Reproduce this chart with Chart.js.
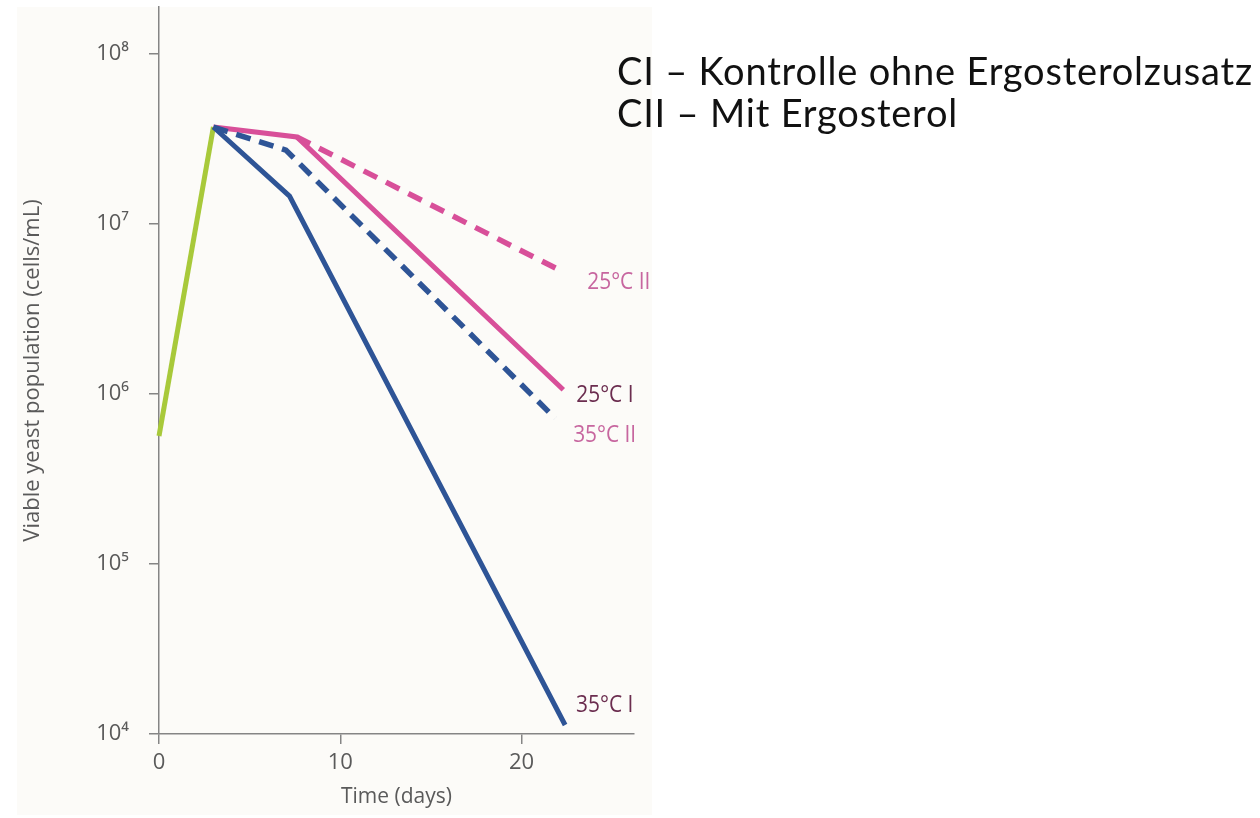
<!DOCTYPE html>
<html>
<head>
<meta charset="utf-8">
<title>Viable yeast population</title>
<script src="https://cdn.jsdelivr.net/npm/chart.js"></script>
<style>
  html, body { margin: 0; padding: 0; background: #ffffff; }
  #wrap { position: relative; width: 1260px; height: 818px; }
</style>
</head>
<body>
<div id="wrap"><canvas id="yeast"></canvas></div>
<script>
// days / viable cells per mL for each curve
var growthDays = [0, 3.0]
var growthCells = [5.66e5, 3.72e7]

var c25iDays = [3.0, 7.6, 22.3]
var c25iCells = [3.72e7, 3.25e7, 1.06e6]

var c25iiDays = [7.6, 22.3]
var c25iiCells = [3.25e7, 5.22e6]

var c35iiDays = [3.0, 7.0, 21.85]
var c35iiCells = [3.72e7, 2.72e7, 7.2e5]

var c35iDays = [3.0, 7.2, 22.4]
var c35iCells = [3.72e7, 1.46e7, 1.13e4]

var curveNames = ['25°C II', '25°C I', '35°C II', '35°C I']
var xTicks = [0, 10, 20]
var yTicks = [1e4, 1e5, 1e6, 1e7, 1e8]
var legendLines = ['CI – Kontrolle ohne Ergosterolzusatz', 'CII – Mit Ergosterol']

var PINK = '#d84f99'
var BLUE = '#2e5496'
var GREEN = '#a8c93a'
var LABEL_LIGHT = '#c7669f'
var LABEL_DARK = '#6b2d4f'
var AXIS = '#858585'
var TEXT = '#5a5a5a'
var SANS = "'Open Sans', sans-serif"

function pts(xs, ys)
{
	var out = []
	for(var i = 0; i < xs.length; i++)
		out.push({x: xs[i], y: ys[i]})
	return out
}

var sup = {'0':'⁰','1':'¹','2':'²','3':'³','4':'⁴','5':'⁵','6':'⁶','7':'⁷','8':'⁸','9':'⁹'}
function powerLabel(v)
{
	var e = String(Math.round(Math.log10(v)))
	return '10' + e.split('').map(function(d){ return sup[d] }).join('')
}

// off-white panel behind the plot
var panel = {
	id: 'panel',
	beforeDraw: function(chart)
	{
		var ctx = chart.ctx
		ctx.save()
		ctx.fillStyle = '#fcfbf8'
		ctx.fillRect(17, 7, 635, 808)
		ctx.restore()
	}
}

// curve names next to the line ends (slightly narrowed), and the CI / CII key
var endLabels = {
	id: 'endLabels',
	afterDatasetsDraw: function(chart)
	{
		var ctx = chart.ctx
		ctx.save()
		ctx.textBaseline = 'middle'
		ctx.textAlign = 'left'
		ctx.font = "24px " + SANS
		chart.data.datasets.forEach(function(ds, i)
		{
			if(!ds.endLabel) return
			var meta = chart.getDatasetMeta(i)
			var last = meta.data[meta.data.length - 1]
			ctx.save()
			ctx.translate(last.x + ds.endLabel.dx, last.y + ds.endLabel.dy)
			ctx.scale(0.87, 1)
			ctx.fillStyle = ds.endLabel.color
			ctx.fillText(ds.endLabel.text, 0, 0)
			ctx.restore()
		})
		ctx.fillStyle = '#111111'
		ctx.font = "38px Lato, sans-serif"
		ctx.letterSpacing = '0.8px'
		ctx.fillText(legendLines[0], 617, 73)
		ctx.fillText(legendLines[1], 617, 115)
		ctx.restore()
	}
}

var lineBase = {
	pointRadius: 0,
	borderWidth: 5,
	tension: 0,
	fill: false,
	borderCapStyle: 'butt',
	borderJoinStyle: 'miter',
	clip: false
}

var tickFont = { family: SANS, size: 22 }

var ctx0 = document.getElementById('yeast')
var myChart = new Chart(ctx0, {
	type: 'line',
	data: {
		datasets: [
			Object.assign({}, lineBase, {
				data: pts(c35iDays, c35iCells),
				borderColor: BLUE,
				endLabel: {text: curveNames[3], color: LABEL_DARK, dx: 11, dy: -20}
			}),
			Object.assign({}, lineBase, {
				data: pts(c35iiDays, c35iiCells),
				borderColor: BLUE,
				borderWidth: 5.5,
				borderDash: [15, 9],
				endLabel: {text: curveNames[2], color: LABEL_LIGHT, dx: 18, dy: 17}
			}),
			Object.assign({}, lineBase, {
				data: pts(c25iiDays, c25iiCells),
				borderColor: PINK,
				borderWidth: 5.5,
				borderDash: [15, 10],
				endLabel: {text: curveNames[0], color: LABEL_LIGHT, dx: 24, dy: 10}
			}),
			Object.assign({}, lineBase, {
				data: pts(c25iDays, c25iCells),
				borderColor: PINK,
				endLabel: {text: curveNames[1], color: LABEL_DARK, dx: 13, dy: 5}
			}),
			Object.assign({}, lineBase, {
				data: pts(growthDays, growthCells),
				borderColor: GREEN
			})
		]
	},
	options: {
		responsive: true,
		maintainAspectRatio: false,
		animation: false,
		layout: {
			padding: {top: 7, right: 626, bottom: 0, left: 0}
		},
		plugins: {
			legend: { display: false },
			tooltip: { enabled: false }
		},
		scales: {
			x: {
				type: 'linear',
				min: 0,
				max: 26.2,
				afterBuildTicks: function(scale)
				{
					scale.ticks = xTicks.map(function(v){ return {value: v} })
				},
				afterFit: function(scale)
				{
					scale.height = 84
					scale.paddingLeft = 0
					scale.paddingRight = 0
				},
				ticks: {
					color: TEXT,
					padding: 6,
					maxRotation: 0,
					font: tickFont
				},
				grid: {
					drawOnChartArea: false,
					drawTicks: true,
					tickLength: 10,
					color: AXIS,
					lineWidth: 1.5
				},
				border: { color: AXIS, width: 1.5 },
				title: {
					display: true,
					text: 'Time (days)',
					color: TEXT,
					padding: {top: 0, bottom: 8},
					font: { family: SANS, size: 21 }
				}
			},
			y: {
				type: 'logarithmic',
				min: 1e4,
				max: 1.89e8,
				afterBuildTicks: function(scale)
				{
					scale.ticks = yTicks.map(function(v){ return {value: v} })
				},
				afterFit: function(scale)
				{
					scale.width = 159
					scale.paddingTop = 0
					scale.paddingBottom = 0
				},
				ticks: {
					color: TEXT,
					padding: 20,
					font: tickFont,
					callback: function(v){ return powerLabel(v) }
				},
				grid: {
					drawOnChartArea: false,
					drawTicks: true,
					tickLength: 10,
					color: AXIS,
					lineWidth: 1.5
				},
				border: { color: AXIS, width: 1.5 },
				title: {
					display: true,
					text: 'Viable yeast population (cells/mL)',
					color: TEXT,
					padding: {top: 20, bottom: 0},
					font: { family: SANS, size: 22 }
				}
			}
		}
	},
	plugins: [panel, endLabels]
})
</script>
</body>
</html>
